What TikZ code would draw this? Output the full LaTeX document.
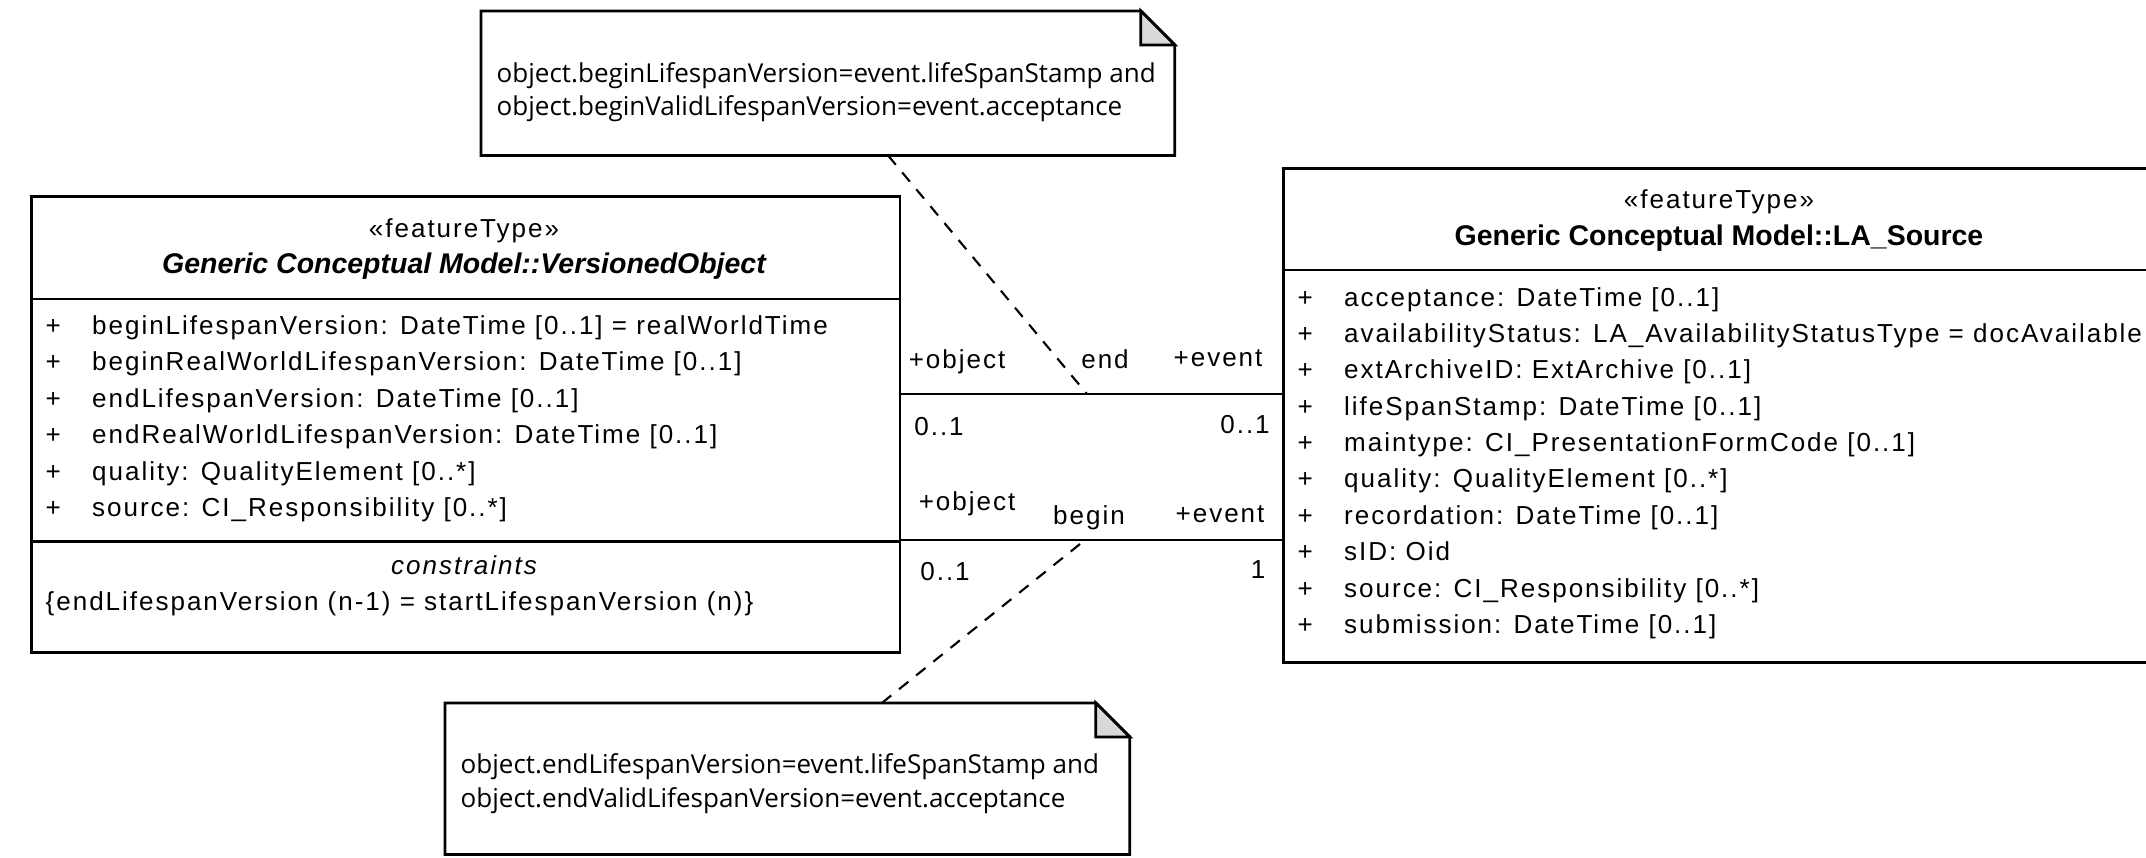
\documentclass[tikz,border=0pt]{standalone}
\usepackage{fontspec}
\setmainfont{Liberation Sans}
\newfontfamily\umlfont[LetterSpace=7.6]{Liberation Sans}
\newfontfamily\notefont{Open Sans}
\usepackage{tikz}
\usetikzlibrary{positioning, calc}
\definecolor{foldgray}{rgb}{0.85, 0.85, 0.85}
\newcommand{\attrvis}{\makebox[0.465cm][l]{+}}

\begin{document}
\begin{tikzpicture}[x=0.01cm, y=-0.01cm]
		\tikzstyle{classbox}=[draw=black, line width=0.8pt, inner sep=0pt, anchor=north west]
		\tikzstyle{notebox}=[draw=none, inner sep=0pt, anchor=north west]
		\tikzstyle{stereo}=[inner sep=0pt, anchor=base, font=\umlfont\fontsize{7.4}{9}\selectfont]
		\tikzstyle{title}=[inner sep=0pt, anchor=base, font=\fontsize{8.1}{10}\selectfont\bfseries]
		\tikzstyle{attr}=[inner sep=0pt, anchor=base west, font=\umlfont\fontsize{7.4}{9}\selectfont]
		\tikzstyle{role}=[inner sep=0pt, anchor=base, font=\umlfont\fontsize{7.4}{9}\selectfont]
		\tikzstyle{notetext}=[inner sep=0pt, anchor=base west, font=\notefont\fontsize{7.4}{9}\selectfont]
		\tikzstyle{divider}=[line width=0.8pt]
		\tikzstyle{assoc}=[line width=0.6pt]
		\tikzstyle{notelink}=[line width=0.6pt, dash pattern=on 0.12cm off 0.1cm]
		\useasboundingbox (0,0) rectangle (2146,857);
		\clip (0,0) rectangle (2146,857);
		%%
		\node (vo) at (30,195) [classbox, minimum width=8.68cm, minimum height=4.56cm] {};
		\node (src) at (1282,167) [classbox, minimum width=8.74cm, minimum height=4.94cm] {};
		\node (n1) at (481,11) [notebox, minimum width=6.92cm, minimum height=1.43cm] {};
		\node (n2) at (445,703) [notebox, minimum width=6.83cm, minimum height=1.50cm] {};
		
		\draw [divider] ([yshift=-1.04cm]vo.north west) -- ([yshift=-1.04cm]vo.north east);
		\draw [divider] ([yshift=-3.46cm]vo.north west) -- ([yshift=-3.46cm]vo.north east);
		\draw [divider] ([yshift=-1.03cm]src.north west) -- ([yshift=-1.03cm]src.north east);
		
		%% VersionedObject
		\node (vos) at (464,237) [stereo] {«featureType»};
		\node (von) at (464,273) [title, font=\fontsize{8.1}{10}\selectfont\bfseries\itshape] {Generic Conceptual Model::VersionedObject};
		\node (a11) at (45,334) [attr] {\attrvis beginLifespanVersion: DateTime [0..1] = realWorldTime};
		\node (a12) at (45,370) [attr] {\attrvis beginRealWorldLifespanVersion: DateTime [0..1]};
		\node (a13) at (45,407) [attr] {\attrvis endLifespanVersion: DateTime [0..1]};
		\node (a14) at (45,443) [attr] {\attrvis endRealWorldLifespanVersion: DateTime [0..1]};
		\node (a15) at (45,480) [attr] {\attrvis quality: QualityElement [0..*]};
		\node (a16) at (45,516) [attr] {\attrvis source: CI\_Responsibility [0..*]};
		\node (c11) at (464,574) [stereo, font=\umlfont\fontsize{7.4}{9}\selectfont\itshape] {constraints};
		\node (c12) at (45,610) [attr] {\{endLifespanVersion (n-1) = startLifespanVersion (n)\}};
		
		%% LA_Source
		\node (srcs) at (1719,208) [stereo] {«featureType»};
		\node (srcn) at (1719,245) [title] {Generic Conceptual Model::LA\_Source};
		\node (a21) at (1297,306) [attr] {\attrvis acceptance: DateTime [0..1]};
		\node (a22) at (1297,342) [attr] {\attrvis availabilityStatus: LA\_AvailabilityStatusType = docAvailable};
		\node (a23) at (1297,378) [attr] {\attrvis extArchiveID: ExtArchive [0..1]};
		\node (a24) at (1297,415) [attr] {\attrvis lifeSpanStamp: DateTime [0..1]};
		\node (a25) at (1297,451) [attr] {\attrvis maintype: CI\_PresentationFormCode [0..1]};
		\node (a26) at (1297,487) [attr] {\attrvis quality: QualityElement [0..*]};
		\node (a27) at (1297,524) [attr] {\attrvis recordation: DateTime [0..1]};
		\node (a28) at (1297,560) [attr] {\attrvis sID: Oid};
		\node (a29) at (1297,597) [attr] {\attrvis source: CI\_Responsibility [0..*]};
		\node (a210) at (1297,633) [attr] {\attrvis submission: DateTime [0..1]};
		
		%% notes
		\draw [divider] (n1.north west) -- ([xshift=-0.34cm]n1.north east) -- ([yshift=-0.34cm]n1.north east) -- (n1.south east) -- (n1.south west) -- cycle;
		\filldraw [divider, fill=foldgray] ([xshift=-0.34cm]n1.north east) -- ([xshift=-0.34cm, yshift=-0.34cm]n1.north east) -- ([yshift=-0.34cm]n1.north east) -- cycle;
		\draw [divider] (n2.north west) -- ([xshift=-0.34cm]n2.north east) -- ([yshift=-0.34cm]n2.north east) -- (n2.south east) -- (n2.south west) -- cycle;
		\filldraw [divider, fill=foldgray] ([xshift=-0.34cm]n2.north east) -- ([xshift=-0.34cm, yshift=-0.34cm]n2.north east) -- ([yshift=-0.34cm]n2.north east) -- cycle;
		\node (t11) at (496,82) [notetext] {object.beginLifespanVersion=event.lifeSpanStamp and};
		\node (t12) at (496,115) [notetext] {object.beginValidLifespanVersion=event.acceptance};
		\node (t21) at (460,773) [notetext] {object.endLifespanVersion=event.lifeSpanStamp and};
		\node (t22) at (460,807) [notetext] {object.endValidLifespanVersion=event.acceptance};
		
		%% associations
		\coordinate (endc) at (1087,394);
		\coordinate (beginc) at (1085,540);
		\draw [assoc] (vo.east |- endc) -- (src.west |- endc);
		\draw [assoc] (vo.east |- beginc) -- (src.west |- beginc);
		\draw [notelink] (n1) -- (endc);
		\draw [notelink] (n2) -- (beginc);
		
		\node (r11) at (957,368) [role] {+object};
		\node (r12) at (1105,368) [role] {end};
		\node (r13) at (1218,366) [role] {+event};
		\node (m11) at (939,435) [role] {0..1};
		\node (m12) at (1245,433) [role] {0..1};
		\node (r21) at (967,510) [role] {+object};
		\node (r22) at (1089,524) [role] {begin};
		\node (r23) at (1220,522) [role] {+event};
		\node (m21) at (945,580) [role] {0..1};
		\node (m22) at (1258,578) [role] {1};
\end{tikzpicture}
\end{document}
